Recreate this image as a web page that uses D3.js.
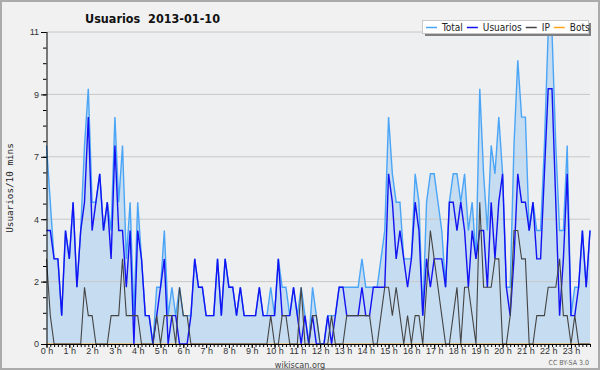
<!DOCTYPE html>
<html>
<head>
<meta charset="utf-8">
<script src="https://cdn.jsdelivr.net/npm/d3@7"></script>
<style>
  body { margin: 0; background: #f1f1f1; }
  svg { display: block; font-family: "DejaVu Sans Condensed", "DejaVu Sans", sans-serif; }
</style>
</head>
<body>
<div id="chart"></div>
<script>
// valeurs par tranche de 10 minutes (144 points, 0h -> 23h50)
var usuarios = [
  4,4,3,3,1,4,3,5,2,4,5,8,4,5,6,4,5,3,7,4,4,2,4,0,
  4,3,1,1,0,1,2,3,0,1,1,0,0,0,1,3,2,2,1,1,1,3,1,3,
  2,2,1,2,1,1,1,1,2,1,1,1,1,3,1,1,1,2,1,0,1,0,1,0,
  0,0,1,0,1,2,2,1,1,1,1,2,1,1,2,2,2,2,6,5,3,4,3,2,
  3,5,4,1,3,2,3,3,3,2,5,5,4,5,4,2,4,3,4,4,2,5,3,5,
  6,2,1,3,6,5,5,4,5,3,3,6,9,9,5,1,3,6,1,1,2,4,2,4
];
var ip = [
  3,1,0,0,0,0,0,0,0,0,2,1,1,0,0,0,0,1,1,1,3,1,1,1,
  1,0,0,0,0,1,0,1,1,1,0,2,1,1,0,0,0,0,0,0,0,0,0,0,
  0,0,0,0,0,0,0,0,0,0,0,1,0,0,1,1,0,0,0,2,0,0,1,1,
  0,0,0,1,0,0,0,1,1,1,1,1,1,1,0,0,1,2,2,1,2,1,0,1,
  0,1,1,0,2,4,3,2,1,0,0,1,2,0,2,2,1,0,5,2,2,2,3,3,
  0,0,1,4,4,3,3,0,0,1,1,1,2,2,2,3,1,1,0,1,0,0,0,0
];
var total = [
  7,5,3,3,1,4,3,5,2,4,7,9,5,5,6,4,5,4,8,5,7,3,5,1,
  5,3,1,1,0,2,2,4,1,2,1,2,1,1,1,3,2,2,1,1,1,3,1,3,
  2,2,1,2,1,1,1,1,2,1,1,2,1,3,2,2,1,2,1,2,1,0,2,1,
  0,0,1,1,1,2,2,2,2,2,2,3,2,2,2,2,3,4,8,6,5,5,3,3,
  3,6,5,1,5,6,6,5,4,2,5,6,6,5,6,4,5,3,9,6,4,7,6,8,
  6,2,2,7,10,8,8,4,5,4,4,7,11,11,7,4,4,7,1,2,2,4,2,4
];
var bots = [
  0,0,0,0,0,0,0,0,0,0,0,0,0,0,0,0,0,0,0,0,0,0,0,0,
  0,0,0,0,0,0,0,0,0,0,0,0,0,0,0,0,0,0,0,0,0,0,0,0,
  0,0,0,0,0,0,0,0,0,0,0,0,0,0,0,0,0,0,0,0,0,0,0,0,
  0,0,0,0,0,0,0,0,0,0,0,0,0,0,0,0,0,0,0,0,0,0,0,0,
  0,0,0,0,0,0,0,0,0,0,0,0,0,0,0,0,0,0,0,0,0,0,0,0,
  0,0,0,0,0,0,0,0,0,0,0,0,0,0,0,0,0,0,0,0,0,0,0,0
];
var hourLabels = ["0 h","1 h","2 h","3 h","4 h","5 h","6 h","7 h","8 h","9 h","10 h","11 h",
  "12 h","13 h","14 h","15 h","16 h","17 h","18 h","19 h","20 h","21 h","22 h","23 h"];
var yTicks = [0, 2.2, 4.4, 6.6, 8.8, 11];
var legendNames = ["Total", "Usuarios", "IP", "Bots"];
var legendColors = ["#4aa5f7", "#1212f2", "#444444", "#ffa41c"];

var W = 600, H = 370,
    margin = { top: 32, right: 10, bottom: 26, left: 46.5 },
    width = W - margin.left - margin.right,
    height = H - margin.top - margin.bottom;

var svg = d3.select("#chart").append("svg")
    .attr("width", W)
    .attr("height", H);

svg.append("rect")
    .attr("x", 1).attr("y", 1)
    .attr("width", W - 2).attr("height", H - 2)
    .attr("fill", "#f1f1f1")
    .attr("stroke", "#ababab")
    .attr("stroke-width", 2);

var g = svg.append("g").attr("transform", "translate(" + margin.left + "," + margin.top + ")");

var x = d3.scaleLinear().domain([0, total.length - 1]).range([0, width]);
var y = d3.scaleLinear().domain([0, 11]).range([height, 0]);

g.append("rect")
    .attr("width", width).attr("height", height)
    .attr("fill", "#eeeff1");

// surface du total
g.append("path")
    .datum(total)
    .attr("fill", "#c6dcf0")
    .attr("d", d3.area()
        .x(function(d, i) { return x(i); })
        .y0(y(0))
        .y1(function(d) { return y(d); }));

// grille
g.selectAll(".grid")
    .data(yTicks.slice(1))
    .enter().append("line")
    .attr("x1", 0).attr("x2", width)
    .attr("y1", function(d) { return y(d); })
    .attr("y2", function(d) { return y(d); })
    .attr("stroke", "#c8c8c8")
    .attr("stroke-width", 1);

var line = d3.line()
    .x(function(d, i) { return x(i); })
    .y(function(d) { return y(d); });

var series = [bots, total, usuarios, ip];
var seriesColors = [legendColors[3], legendColors[0], legendColors[1], legendColors[2]];
var seriesWidths = [1.2, 1.4, 1.4, 1.1];

series.forEach(function(s, k) {
    g.append("path")
        .datum(s)
        .attr("fill", "none")
        .attr("stroke", seriesColors[k])
        .attr("stroke-width", seriesWidths[k])
        .attr("stroke-linejoin", "miter")
        .attr("d", line);
});

// axe y
var yMinor = d3.range(0, 21).map(function(k) { return k * 0.55; });
g.append("g")
    .call(d3.axisLeft(y).tickValues(yMinor).tickSize(3.5).tickFormat(""))
    .call(function(a) { a.select(".domain").remove(); });
var yAxis = g.append("g")
    .call(d3.axisLeft(y).tickValues(yTicks).tickSize(5.5).tickPadding(2)
        .tickFormat(function(d) { return Math.round(d); }));
yAxis.selectAll("text").attr("fill", "#333").style("font-size", "9px");
yAxis.select(".domain").remove();

// axe x
var xAxisMinor = g.append("g")
    .attr("transform", "translate(0," + height + ")")
    .call(d3.axisBottom(x).tickValues(d3.range(0, total.length)).tickSize(3).tickFormat(""));
xAxisMinor.select(".domain").remove();
var xAxis = g.append("g")
    .attr("transform", "translate(0," + height + ")")
    .call(d3.axisBottom(x).tickValues(d3.range(0, 144, 6)).tickSize(4).tickPadding(0)
        .tickFormat(function(d) { return hourLabels[d / 6]; }));
xAxis.selectAll("text").attr("fill", "#333").style("font-size", "9px");
xAxis.select(".domain").remove();

g.append("line")
    .attr("x1", 0).attr("x2", width + 1)
    .attr("y1", height + 0.5).attr("y2", height + 0.5)
    .attr("stroke", "#000");
g.append("line")
    .attr("x1", 0.5).attr("x2", 0.5)
    .attr("y1", 0).attr("y2", height)
    .attr("stroke", "#000");

svg.selectAll(".tick line").attr("stroke", "#000");

// titres
svg.append("text")
    .attr("x", 85).attr("y", 23)
    .style("font-size", "12.5px")
    .style("font-weight", "bold")
    .style("white-space", "pre")
    .attr("fill", "#111")
    .text("Usuarios  2013-01-10");

svg.append("text")
    .attr("transform", "translate(13," + (margin.top + height / 2) + ") rotate(-90)")
    .attr("text-anchor", "middle")
    .style("font-family", "'DejaVu Sans Mono', monospace")
    .style("font-size", "9.3px")
    .attr("fill", "#222")
    .text("Usuarios/10 mins");

svg.append("text")
    .attr("x", 300).attr("y", 367.5)
    .attr("text-anchor", "middle")
    .style("font-size", "9px")
    .attr("fill", "#444")
    .text("wikiscan.org");

svg.append("text")
    .attr("x", 589).attr("y", 365)
    .attr("text-anchor", "end")
    .style("font-size", "7px")
    .attr("fill", "#666")
    .text("CC BY-SA 3.0");

// légende
var lg = svg.append("g");
lg.append("rect")
    .attr("x", 425).attr("y", 23).attr("width", 166).attr("height", 13)
    .attr("fill", "#7f7f7f");
lg.append("rect")
    .attr("x", 422.5).attr("y", 20.5).attr("width", 166).attr("height", 13)
    .attr("fill", "#fff")
    .attr("stroke", "#c8c8c8");

var lx = 426;
legendNames.forEach(function(name, k) {
    lg.append("line")
        .attr("x1", lx).attr("x2", lx + 11)
        .attr("y1", 27.5).attr("y2", 27.5)
        .attr("stroke", legendColors[k])
        .attr("stroke-width", 1.5);
    var t = lg.append("text")
        .attr("x", lx + 16).attr("y", 31)
        .style("font-size", "10px")
        .attr("fill", "#222")
        .text(name);
    lx += 16 + t.node().getComputedTextLength() + 4;
});
</script>
</body>
</html>
